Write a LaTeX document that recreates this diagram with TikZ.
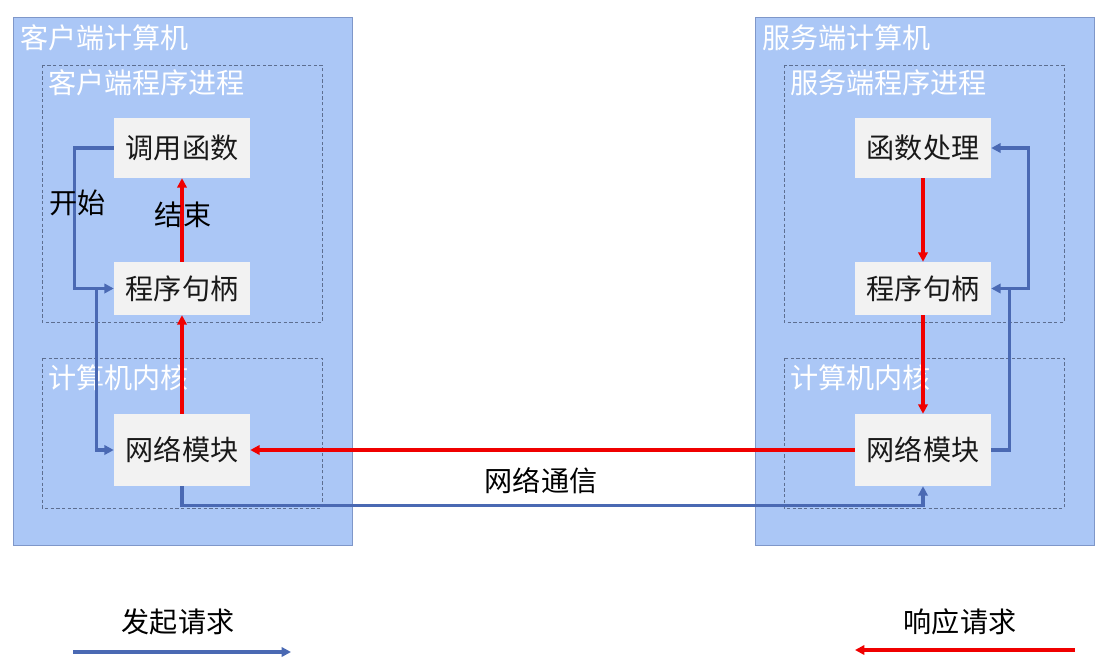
\documentclass[tikz,border=0pt]{standalone}
\usepackage{fontspec}
\newfontfamily\cjk{Noto Sans CJK SC}
\usetikzlibrary{arrows.meta,calc}
\definecolor{cfill}{HTML}{ABC7F6}
\definecolor{cedge}{HTML}{7F97C9}
\definecolor{cdash}{HTML}{5D6E90}
\definecolor{cbox}{HTML}{F2F2F2}
\definecolor{creq}{HTML}{4A69B3}
\definecolor{cresp}{HTML}{F00000}
\begin{document}
\begin{tikzpicture}[x=0.3mm,y=-0.3mm,every node/.style={font=\cjk\fontsize{24}{28}\selectfont,inner sep=0pt},
  mod/.style={fill=cbox,text=black!90,minimum width=40.8mm},
  req/.style={creq,line width=1mm,-{Triangle[length=2.8mm,width=2.8mm]}},
  resp/.style={cresp,line width=1.1mm,-{Triangle[length=2.8mm,width=2.8mm]}},
  frame/.style={cdash,line width=0.3mm,dash pattern=on 1mm off 0.7mm}]
  \fill[white] (0,0) rectangle (1103,669);
  \useasboundingbox (0,0) rectangle (1103,669);
  \foreach \ox/\who in {0/客户端,742/服务端}{
    \draw[cedge,fill=cfill,line width=0.3mm] (\ox+13,17) rectangle (\ox+352,545);
    \node[white,anchor=west] at (\ox+20,38) {\who 计算机};
    \draw[frame] (\ox+42,65) rectangle (\ox+322,322);
    \node[white,anchor=west] at (\ox+48,83) {\who 程序进程};
    \draw[frame] (\ox+42,358) rectangle (\ox+322,508);
    \node[white,anchor=west] at (\ox+48,378) {计算机内核};
  }
  % client side
  \node[mod,minimum height=18mm] (cCall) at (182,148) {调用函数};
  \node[mod,minimum height=15.9mm] (cHandle) at (182,288.5) {程序句柄};
  \node[mod,minimum height=21.6mm] (cNet) at (182,450) {网络模块};
  % server side
  \node[mod,minimum height=18mm] (sFunc) at (923,148) {函数处理};
  \node[mod,minimum height=15.9mm] (sHandle) at (923,288.5) {程序句柄};
  \node[mod,minimum height=21.6mm] (sNet) at (923,450) {网络模块};
  % request path
  \draw[req] (cCall.west) -- ++(-39,0) |- (cHandle.west);
  \draw[req] ($(cHandle.west)+(-17,0)$) |- (cNet.west);
  \draw[req] (cNet.south) -- ++(0,19) -| (sNet.south);
  \draw[req] (sNet.east) -- ++(18,0) |- (sHandle.east);
  \draw[req] ($(sHandle.east)+(18,0)$) -- ++(19,0) |- (sFunc.east);
  % response path
  \draw[resp] (sFunc.south) -- (sHandle.north);
  \draw[resp] (sHandle.south) -- (sNet.north);
  \draw[resp] (sNet.west) -- (cNet.east);
  \draw[resp] (cNet.north) -- (cHandle.south);
  \draw[resp] (cHandle.north) -- (cCall.south);
  \node (lStart) at (78,203) {开始};
  \node (lEnd) at (183,215) {结束};
  \node (lComm) at (541,481) {网络通信};
  % legend
  \node (lReq) at (178,622) {发起请求};
  \coordinate (reqA) at (73,652);
  \coordinate (reqB) at (291,652);
  \draw[req] (reqA) -- (reqB);
  \node (lResp) at (960,622) {响应请求};
  \coordinate (respA) at (1075,650);
  \coordinate (respB) at (855,650);
  \draw[resp] (respA) -- (respB);
\end{tikzpicture}
\end{document}
